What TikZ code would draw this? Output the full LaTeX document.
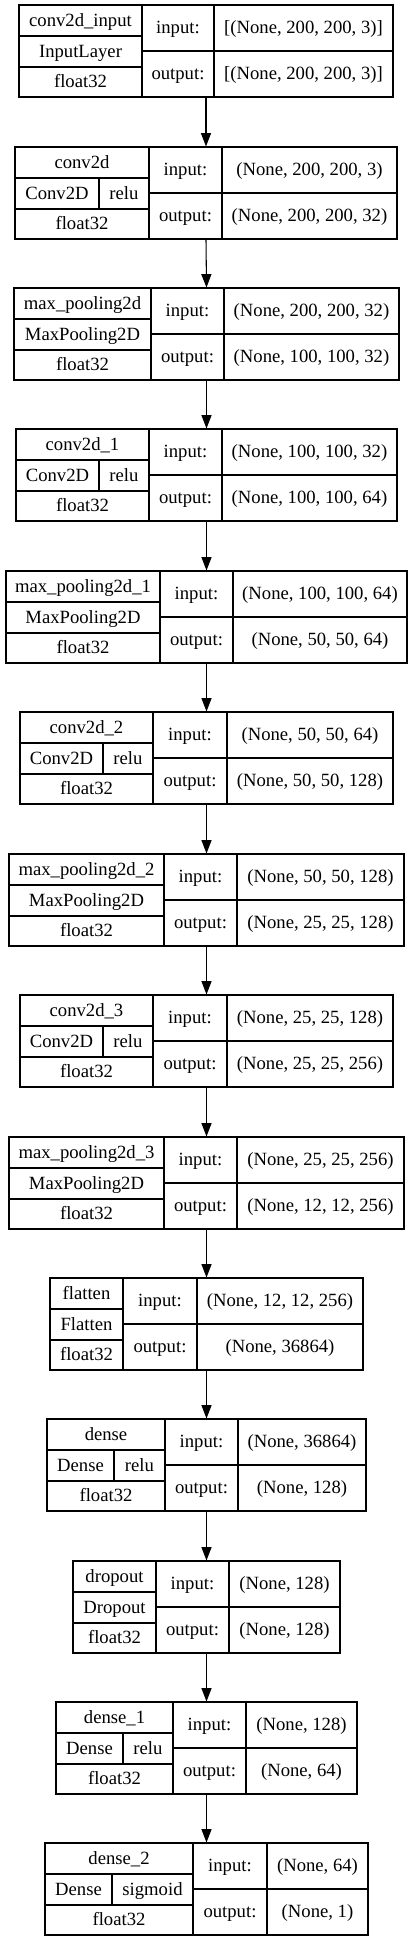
\documentclass[tikz,border=0pt]{standalone}
\usepackage{fontspec}
\setmainfont{Liberation Serif}
\usetikzlibrary{arrows.meta,fit}
\tikzset{
    layerbox/.style={draw, line width=0.8pt, inner sep=0pt},
    cell/.style={anchor=base, inner sep=0pt, font=\fontsize{14pt}{16pt}\selectfont},
    flow/.style={-{Triangle[length=10pt,width=7.5pt]}, line width=0.8pt},
}

\begin{document}
\begin{tikzpicture}[x=0.75pt, y=-0.75pt]
    \useasboundingbox (0,0) rectangle (413,1941);
    % id / top / left / col1 / col2 / right / act split / name / class / act / input / output
    \foreach \id/\yt/\xa/\xb/\xc/\xd/\xs/\lname/\ltype/\lact/\lin/\lout in {
        1/5/19/142/214/393/0/conv2d\_input/InputLayer/-/{[(None, 200, 200, 3)]}/{[(None, 200, 200, 3)]},
        2/147/15/149/222/397/99/conv2d/Conv2D/relu/{(None, 200, 200, 3)}/{(None, 200, 200, 32)},
        3/288/14/151/224/399/0/max\_pooling2d/MaxPooling2D/-/{(None, 200, 200, 32)}/{(None, 100, 100, 32)},
        4/429/16/149/222/397/99/conv2d\_1/Conv2D/relu/{(None, 100, 100, 32)}/{(None, 100, 100, 64)},
        5/571/6/160/233/407/0/max\_pooling2d\_1/MaxPooling2D/-/{(None, 100, 100, 64)}/{(None, 50, 50, 64)},
        6/712/20/153/227/393/103/conv2d\_2/Conv2D/relu/{(None, 50, 50, 64)}/{(None, 50, 50, 128)},
        7/854/9/164/237/404/0/max\_pooling2d\_2/MaxPooling2D/-/{(None, 50, 50, 128)}/{(None, 25, 25, 128)},
        8/995/20/153/227/393/103/conv2d\_3/Conv2D/relu/{(None, 25, 25, 128)}/{(None, 25, 25, 256)},
        9/1137/9/164/237/404/0/max\_pooling2d\_3/MaxPooling2D/-/{(None, 25, 25, 256)}/{(None, 12, 12, 256)},
        10/1278/50/123/197/363/0/flatten/Flatten/-/{(None, 12, 12, 256)}/{(None, 36864)},
        11/1419/47/165/238/366/114/dense/Dense/relu/{(None, 36864)}/{(None, 128)},
        12/1561/73/156/229/340/0/dropout/Dropout/-/{(None, 128)}/{(None, 128)},
        13/1702/56/173/246/357/123/dense\_1/Dense/relu/{(None, 128)}/{(None, 64)},
        14/1843/45/193/267/368/112/dense\_2/Dense/sigmoid/{(None, 64)}/{(None, 1)}
    }{
        \node(L\id) [layerbox, fit={(\xa,\yt) (\xd,\yt+92)}]{};
        \draw[line width=0.8pt] (\xb,\yt) -- (\xb,\yt+92) (\xc,\yt) -- (\xc,\yt+92)
            (\xa,\yt+31) -- (\xb,\yt+31) (\xa,\yt+62) -- (\xb,\yt+62)
            (\xb,\yt+46) -- (\xd,\yt+46);
        \pgfmathsetmacro\xm{(\xa+\xb)/2}
        \pgfmathsetmacro\xn{(\xb+\xc)/2}
        \pgfmathsetmacro\xo{(\xc+\xd)/2}
        \node(L\id-name) [cell] at (\xm,\yt+21.1) {\lname};
        \ifnum\xs=0
            \node(L\id-type) [cell] at (\xm,\yt+52.1) {\ltype};
        \else
            \draw[line width=0.8pt] (\xs,\yt+31) -- (\xs,\yt+62);
            \node(L\id-type) [cell] at ({(\xa+\xs)/2},\yt+52.1) {\ltype};
            \node(L\id-act) [cell] at ({(\xs+\xb)/2},\yt+52.1) {\lact};
        \fi
        \node(L\id-dtype) [cell] at (\xm,\yt+82.6) {float32};
        \node(L\id-inkey) [cell] at (\xn,\yt+28.6) {input:};
        \node(L\id-outkey) [cell] at (\xn,\yt+74.6) {output:};
        \node(L\id-in) [cell] at (\xo,\yt+28.6) {\lin};
        \node(L\id-out) [cell] at (\xo,\yt+74.6) {\lout};
    }
    \foreach \i [evaluate=\i as \j using int(\i+1)] in {1,...,13}
        \draw[flow] (L\i.south) -- (L\j.north);
\end{tikzpicture}
\end{document}
